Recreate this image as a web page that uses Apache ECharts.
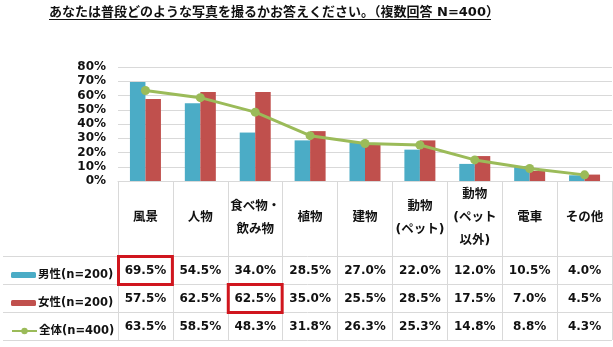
<!DOCTYPE html>
<html><head><meta charset="utf-8">
<script src="https://cdn.jsdelivr.net/npm/echarts@6/dist/echarts.min.js"></script>
<style>html,body{margin:0;padding:0;background:#fff}#c{width:613px;height:347px}</style>
</head><body><div id="c"></div>
<script>
const titleText = 'あなたは普段どのような写真を撮るかお答えください。（複数回答 N=400）';
const categories = ['風景','人物','食べ物・\n飲み物','植物','建物','動物\n(ペット)','動物\n(ペット\n以外)','電車','その他'];
const seriesNames = ['男性(n=200)','女性(n=200)','全体(n=400)'];
const male = [69.5,54.5,34.0,28.5,27.0,22.0,12.0,10.5,4.0];
const female = [57.5,62.5,62.5,35.0,25.5,28.5,17.5,7.0,4.5];
const total = [63.5,58.5,48.3,31.8,26.3,25.3,14.8,8.8,4.3];
const yMin = 0, yMax = 80, yStep = 10;
const highlights = [[0,0],[1,2]]; // [seriesIndex, categoryIndex]

const colors = ['#4BACC6','#C0504D','#9BBB59'];
const FONT = "'DejaVu Sans','Noto Sans CJK JP',sans-serif";
const TXT = '#111';
const rows = [male, female, total];
const rowTop = 256, rowH = 28;

const chart = echarts.init(document.getElementById('c'), null, {renderer:'canvas'});
const legendItem = (i, ih) => ({
  data:[seriesNames[i]], orient:'horizontal', left:6, top: rowTop + rowH*i + rowH/2 - 7,
  itemWidth:25, itemHeight:ih, itemGap:4, selectedMode:false,
  textStyle:{fontFamily:FONT, fontWeight:'bold', fontSize:11.5, color:TXT, lineHeight:14, padding:[0,0,0,-3]}
});
chart.setOption({
  animation:false,
  color: colors,
  grid:{left:118, right:1, top:67, bottom:166, containLabel:false},
  legend:[legendItem(0,6), legendItem(1,6), legendItem(2,8)],
  xAxis:{type:'category', data:categories,
    axisLine:{show:true, lineStyle:{color:'#D9D9D9'}},
    axisTick:{show:true, length:159, lineStyle:{color:'#D9D9D9'}},
    axisLabel:{interval:0, margin:37, verticalAlign:'middle', fontFamily:FONT, fontWeight:'bold', fontSize:12.5, lineHeight:23, color:TXT}
  },
  yAxis:{type:'value', min:yMin, max:yMax, interval:yStep,
    axisLine:{show:false}, axisTick:{show:false},
    splitLine:{lineStyle:{color:'#D9D9D9'}},
    axisLabel:{formatter:v=>v+'%', margin:12, fontFamily:FONT, fontWeight:'bold', fontSize:12, color:TXT}
  },
  series:[
    {name:seriesNames[0], type:'bar', data:male, barWidth:15.5, barGap:'0%'},
    {name:seriesNames[1], type:'bar', data:female, barWidth:15.5, barGap:'0%'},
    {name:seriesNames[2], type:'line', data:total, symbol:'circle', symbolSize:9, lineStyle:{width:3}, z:5}
  ]
});

const g = [];
g.push({type:'text', left:49, top:6, style:{text:titleText, fontFamily:FONT, fontWeight:'bold', fontSize:13, fill:TXT}});
g.push({type:'line', shape:{x1:49,y1:19.5,x2:491,y2:19.5}, style:{stroke:'#111', lineWidth:1.2}});
for (let r=0;r<=3;r++){
  const y = rowTop + r*rowH + 0.5;
  g.push({type:'line', shape:{x1:3,y1:y,x2:612,y2:y}, style:{stroke:'#D9D9D9', lineWidth:1}});
}
const step = chart.convertToPixel({xAxisIndex:0},1) - chart.convertToPixel({xAxisIndex:0},0);
rows.forEach((arr, r) => {
  arr.forEach((v, i) => {
    const x = chart.convertToPixel({xAxisIndex:0}, i);
    g.push({type:'text', x:x, y:rowTop + r*rowH + rowH/2 + 1,
      style:{text:v.toFixed(1)+'%', fontFamily:FONT, fontWeight:'bold', fontSize:12, fill:TXT, align:'center', verticalAlign:'middle'}});
  });
});
highlights.forEach(([r,i]) => {
  const x = chart.convertToPixel({xAxisIndex:0}, i);
  g.push({type:'rect', shape:{x:x-step/2+0.5, y:rowTop + r*rowH + 0.5, width:step-1, height:rowH}, style:{fill:'none', stroke:'#D0161E', lineWidth:3}, z:10});
});
chart.setOption({graphic:g});
</script></body></html>
